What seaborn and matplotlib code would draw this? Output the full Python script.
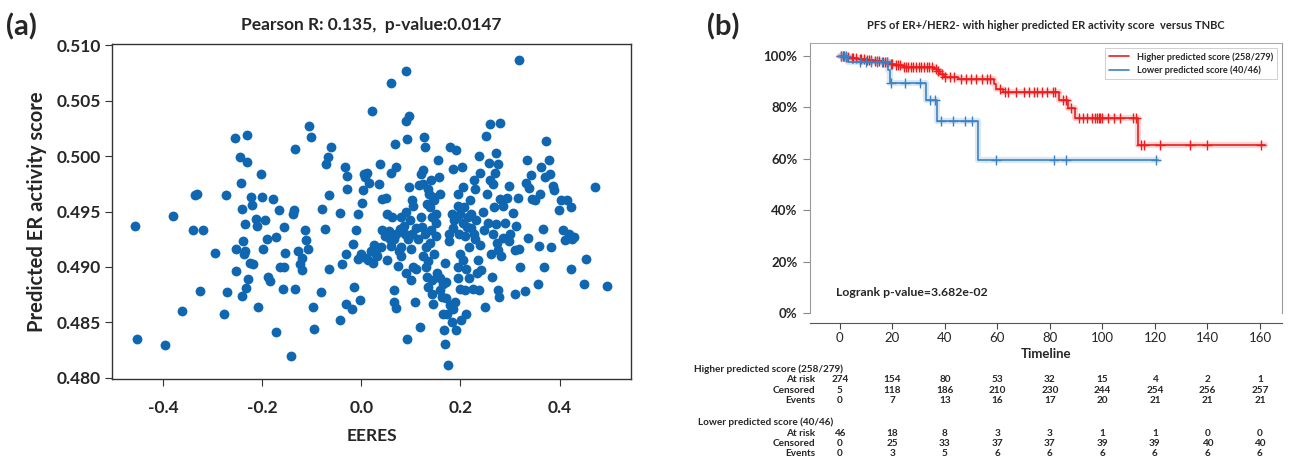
import numpy as np
import pandas as pd
import seaborn as sns
import matplotlib.pyplot as plt
from matplotlib.transforms import blended_transform_factory

# ---- panel (a): EERES vs predicted ER activity score ----
eeres = [
    -0.457, -0.452, -0.397, -0.380, -0.361, -0.340, -0.335, -0.332, -0.319, -0.325,
    -0.296, -0.277, -0.274, -0.271, -0.255, -0.252, -0.252, -0.245, -0.243, -0.240,
    -0.240, -0.237, -0.238, -0.235, -0.231, -0.230, -0.234, -0.233, -0.228, -0.225,
    -0.223, -0.221, -0.218, -0.213, -0.210, -0.209, -0.202, -0.201, -0.198, -0.194,
    -0.190, -0.188, -0.184, -0.179, -0.172, -0.172, -0.167, -0.165, -0.159, -0.157,
    -0.156, -0.154, -0.141, -0.136, -0.138, -0.134, -0.134, -0.128, -0.124, -0.120,
    -0.119, -0.113, -0.111, -0.107, -0.106, -0.102, -0.097, -0.096, -0.082, -0.080,
    -0.074, -0.071, -0.067, -0.066, -0.065, -0.061, -0.044, -0.043, -0.039, -0.032,
    -0.028, -0.028, -0.030, -0.030, -0.019, -0.017, -0.015, -0.011, -0.007, -0.007,
    -0.003, 0.001, 0.003, 0.005, 0.008, 0.012, 0.014, 0.016, 0.020, 0.024,
    0.022, 0.032, 0.035, 0.038, 0.041, 0.042, 0.047, 0.051, 0.052, 0.057,
    0.059, 0.060, 0.062, 0.065, 0.066, 0.070, 0.068, 0.070, 0.074, 0.076,
    0.078, 0.086, 0.090, 0.090, 0.093, 0.093, 0.096, 0.096, 0.099, 0.101,
    0.103, 0.103, 0.105, 0.109, 0.116, 0.118, 0.120, 0.120, 0.122, 0.124,
    0.126, 0.128, 0.130, 0.130, 0.132, 0.134, 0.136, 0.138, 0.140, 0.140,
    0.142, 0.145, 0.147, 0.151, 0.151, 0.155, 0.157, 0.159, 0.159, 0.163,
    0.167, 0.168, 0.169, 0.170, 0.174, 0.176, 0.178, 0.182, 0.184, 0.186,
    0.188, 0.190, 0.191, 0.194, 0.196, 0.198, 0.199, 0.201, 0.204, 0.205,
    0.207, 0.209, 0.211, 0.213, 0.217, 0.219, 0.222, 0.227, 0.228, 0.232,
    0.236, 0.238, 0.238, 0.242, 0.248, 0.250, 0.252, 0.253, 0.258, 0.259,
    0.261, 0.263, 0.265, 0.267, 0.271, 0.271, 0.273, 0.275, 0.275, 0.277,
    0.279, 0.279, 0.282, 0.286, 0.294, 0.298, 0.298, 0.306, 0.309, 0.313,
    0.317, 0.319, 0.319, 0.321, 0.330, 0.332, 0.334, 0.336, 0.338, 0.343,
    0.344, 0.350, 0.356, 0.358, 0.361, 0.363, 0.366, 0.369, 0.371, 0.373,
    0.379, 0.381, 0.383, 0.387, 0.389, 0.398, 0.402, 0.406, 0.410, 0.414,
    0.418, 0.422, 0.423, 0.425, 0.429, 0.449, 0.454, 0.471, 0.495,
    0.125, 0.135, 0.145, 0.132, 0.142, 0.128, 0.150, 0.138, 0.146, 0.125,
    0.135, 0.152, 0.143, 0.158, 0.165, 0.170, 0.178, 0.185, 0.183, 0.172,
    0.165, 0.176, 0.185, 0.190, 0.195, 0.200, 0.205, 0.210, 0.215, 0.222,
    0.230, 0.240, 0.205, 0.212, 0.218, 0.195, 0.200, 0.225, 0.233, 0.245,
    0.255, 0.265, 0.275, 0.285, 0.290, 0.300, 0.310, 0.260, 0.270, 0.240,
    0.230, 0.055, 0.065, 0.080, 0.088, 0.095, 0.110, 0.115, 0.105, 0.090,
    0.080, 0.030, 0.040, 0.010, 0.000, 0.025, 0.050, 0.060, 0.070, 0.110,
    0.100, 0.090, 0.080,
]
er_score = [
    0.4937, 0.4835, 0.4830, 0.4946, 0.4860, 0.4933, 0.4965, 0.4966, 0.4933, 0.4878,
    0.4913, 0.4858, 0.4965, 0.4877, 0.5016, 0.4896, 0.4916, 0.4999, 0.4976, 0.4874,
    0.4952, 0.4912, 0.4923, 0.4914, 0.5019, 0.4995, 0.4939, 0.4881, 0.4889, 0.4904,
    0.4963, 0.4956, 0.4903, 0.4943, 0.4937, 0.4864, 0.4984, 0.4963, 0.4916, 0.4942,
    0.4925, 0.4891, 0.4887, 0.4961, 0.4927, 0.4841, 0.4951, 0.4900, 0.4880, 0.4900,
    0.4936, 0.4913, 0.4820, 0.4951, 0.4948, 0.4880, 0.5006, 0.4914, 0.4903, 0.4897,
    0.4908, 0.4933, 0.4924, 0.4916, 0.5027, 0.5017, 0.4864, 0.4844, 0.4877, 0.4952,
    0.4934, 0.4993, 0.4999, 0.4965, 0.4898, 0.5008, 0.4852, 0.4949, 0.4903, 0.4990,
    0.4982, 0.4970, 0.4912, 0.4867, 0.4862, 0.4921, 0.4882, 0.4933, 0.4948, 0.4907,
    0.4870, 0.4958, 0.4969, 0.4984, 0.4981, 0.4985, 0.4906, 0.4976, 0.4914, 0.4904,
    0.5041, 0.4910, 0.4975, 0.4993, 0.4961, 0.4933, 0.4928, 0.4906, 0.4948, 0.4925,
    0.5066, 0.4919, 0.4945, 0.4879, 0.4868, 0.4863, 0.5011, 0.4930, 0.4901, 0.4914,
    0.4934, 0.4937, 0.5077, 0.5032, 0.5015, 0.4835, 0.5036, 0.4972, 0.4942, 0.4916,
    0.4960, 0.4930, 0.4900, 0.4868, 0.4974, 0.4846, 0.4984, 0.4945, 0.4936, 0.4987,
    0.5017, 0.5008, 0.4918, 0.4900, 0.4891, 0.4882, 0.4966, 0.4954, 0.4978, 0.4933,
    0.4876, 0.4867, 0.4960, 0.4948, 0.4940, 0.4996, 0.4981, 0.4966, 0.4879, 0.4873,
    0.4843, 0.4831, 0.4904, 0.4886, 0.4812, 0.4923, 0.5008, 0.4948, 0.4988, 0.4942,
    0.4868, 0.5005, 0.4843, 0.4900, 0.4966, 0.4930, 0.4912, 0.4852, 0.4990, 0.4972,
    0.4954, 0.4879, 0.4858, 0.4936, 0.4918, 0.4960, 0.4948, 0.4978, 0.4930, 0.4942,
    0.4906, 0.5000, 0.4879, 0.4897, 0.4933, 0.4864, 0.5018, 0.4966, 0.4994, 0.5029,
    0.4912, 0.4891, 0.4975, 0.4954, 0.5003, 0.4939, 0.4922, 0.4993, 0.4879, 0.4873,
    0.5030, 0.4961, 0.4910, 0.4926, 0.4962, 0.4973, 0.4923, 0.4949, 0.4876, 0.4937,
    0.4962, 0.5087, 0.4916, 0.4900, 0.4878, 0.4976, 0.4996, 0.4926, 0.4971, 0.4983,
    0.4961, 0.4960, 0.4885, 0.4919, 0.4966, 0.4990, 0.4934, 0.4900, 0.4981, 0.5014,
    0.4996, 0.4984, 0.4918, 0.4973, 0.4969, 0.4951, 0.4960, 0.4933, 0.4924, 0.4960,
    0.4930, 0.4954, 0.4898, 0.4925, 0.4927, 0.4885, 0.4907, 0.4972, 0.4883,
    0.4975, 0.4970, 0.4963, 0.4957, 0.4945, 0.4930, 0.4928, 0.4922, 0.4912, 0.4910,
    0.4905, 0.4895, 0.4888, 0.4890, 0.4885, 0.4872, 0.4866, 0.4862, 0.4850, 0.4858,
    0.4858, 0.4930, 0.4935, 0.4945, 0.4955, 0.4948, 0.4940, 0.4928, 0.4945, 0.4935,
    0.4925, 0.4920, 0.4906, 0.4898, 0.4890, 0.4890, 0.4880, 0.4880, 0.4895, 0.4950,
    0.4940, 0.4930, 0.4915, 0.4955, 0.4940, 0.4930, 0.4915, 0.4978, 0.4985, 0.4985,
    0.4970, 0.4932, 0.4925, 0.4918, 0.4930, 0.4925, 0.4935, 0.4925, 0.4955, 0.4950,
    0.4945, 0.4912, 0.4918, 0.4908, 0.4912, 0.4920, 0.4962, 0.4985, 0.4990, 0.4898,
    0.4888, 0.4895, 0.4910,
]

# ---- panel (b): Kaplan-Meier curves (event times and survival after each) ----
hi_label = "Higher predicted score (258/279)"
hi_event_t = [2, 4, 7, 10, 13, 16, 19, 21, 24, 36, 37, 38, 39.5, 45, 58.6, 59.5, 62,
              83.5, 87, 89.5, 113.5]
hi_surv = [0.996, 0.993, 0.989, 0.985, 0.980, 0.975, 0.968, 0.963, 0.955, 0.947, 0.940,
           0.928, 0.918, 0.911, 0.889, 0.873, 0.860, 0.829, 0.797, 0.759, 0.652]
hi_end = 162
hi_censor_t = [0.5, 1, 1.5, 2.5, 3, 4.5, 5, 6, 7.5, 8, 9, 10.5, 11, 12, 13.5, 14, 15, 16.5,
               17, 18, 19.5, 20, 21.5, 22, 23, 24.5, 25, 26, 27, 28, 29, 30, 31, 32, 33,
               34, 35, 36.5, 37.5, 39, 40, 42, 43.5, 46, 48, 50, 52, 54, 56, 57, 61, 63,
               64, 67, 70, 72, 74, 75, 77, 79, 81, 82, 85, 86.3, 88, 91, 92.5, 94, 96,
               97, 98, 98.5, 99, 100, 102, 104.5, 106.7, 111.7, 112.7, 114.5, 115.9,
               121.9, 133.3, 139.7, 160.5]

lo_label = "Lower predicted score (40/46)"
lo_event_t = [3, 18.5, 19.2, 32.8, 37, 52.6]
lo_surv = [0.978, 0.944, 0.895, 0.828, 0.746, 0.595]
lo_end = 121
lo_censor_t = [0.5, 1.5, 2.5, 7.5, 10, 12, 14, 16, 18, 19.5, 24.8, 30.5, 34.3, 36.2,
               38.5, 43, 47.6, 50.2, 59.4, 81.4, 86, 120.5]

# number-at-risk table
table_times = [0, 20, 40, 60, 80, 100, 120, 140, 160]
hi_at_risk = [274, 154, 80, 53, 32, 15, 4, 2, 1]
hi_censored = [5, 118, 186, 210, 230, 244, 254, 256, 257]
hi_events = [0, 7, 13, 16, 17, 20, 21, 21, 21]
lo_at_risk = [46, 18, 8, 3, 3, 1, 1, 0, 0]
lo_censored = [0, 25, 33, 37, 37, 39, 39, 40, 40]
lo_events = [0, 3, 5, 6, 6, 6, 6, 6, 6]

sns.set_style("ticks")
plt.rcParams['font.family'] = ['Lato', 'DejaVu Sans']
plt.rcParams['axes.unicode_minus'] = False

W, H = 1289, 463
fig = plt.figure(figsize=(W / 100, H / 100), dpi=100)


def frac_box(l, t, r, b):
    return [l / W, 1 - b / H, (r - l) / W, (b - t) / H]


# ---------------- panel (a) ----------------
ax1 = fig.add_axes(frac_box(112, 44, 631, 379))
scatter_df = pd.DataFrame({"EERES": eeres, "score": er_score})
sns.scatterplot(data=scatter_df, x="EERES", y="score", ax=ax1, color="#0f67b1",
                s=50, linewidth=0, alpha=1)
ax1.set_xlim(-0.503, 0.544)
ax1.set_ylim(0.4799, 0.5101)
ax1.set_xticks([-0.4, -0.2, 0.0, 0.2, 0.4])
ax1.set_xticklabels(["-0.4", "-0.2", "0.0", "0.2", "0.4"])
yt = [0.480, 0.485, 0.490, 0.495, 0.500, 0.505, 0.510]
ax1.set_yticks(yt)
ax1.set_yticklabels([f"{v:.3f}" for v in yt])
for lab in ax1.get_xticklabels() + ax1.get_yticklabels():
    lab.set_fontweight("bold")
ax1.tick_params(axis="x", labelsize=12.5, length=5, pad=10, color="#333333")
ax1.tick_params(axis="y", labelsize=12.5, length=5, pad=3, color="#333333")
for sp in ax1.spines.values():
    sp.set_color("#333333")
    sp.set_linewidth(1.0)
ax1.set_xlabel("EERES", fontsize=12.5, fontweight="bold", labelpad=9)
ax1.set_ylabel("Predicted ER activity score", fontsize=14.5, fontweight="bold", labelpad=7)
ax1.set_title("Pearson R: 0.135,  p-value:0.0147", fontsize=12.5, fontweight="bold", pad=10)
fig.text(6 / W, 1 - 27 / H, "(a)", fontsize=21, fontweight="bold", va="center")

# ---------------- panel (b) ----------------
ax2 = fig.add_axes(frac_box(810, 43, 1282, 313))


def step_curve(event_t, surv, end):
    t = np.concatenate([[0], event_t, [end]])
    s = np.concatenate([[1.0], surv, [surv[-1]]])
    return t, s


def surv_at(times, event_t, surv):
    levels = np.concatenate([[1.0], surv])
    idx = np.searchsorted(event_t, times, side="right")
    return levels[idx]


groups = [
    (hi_label, hi_event_t, hi_surv, hi_end, hi_censor_t, "#ee1c1c"),
    (lo_label, lo_event_t, lo_surv, lo_end, lo_censor_t, "#3b82c4"),
]
for label, ev_t, sv, end, cen_t, col in groups:
    t, s = step_curve(ev_t, sv, end)
    ax2.step(t, s, where="post", color=col, lw=4.5, alpha=0.18)
    sns.lineplot(x=t, y=s, ax=ax2, drawstyle="steps-post", color=col, lw=1.2,
                 label=label, estimator=None, sort=False)
    ct = np.array(cen_t)
    ax2.plot(ct, surv_at(ct, ev_t, sv), ls="", marker="+", ms=6.5, mew=1.0, color=col)

ax2.set_xlim(-11.4, 168.4)
ax2.set_ylim(0, 1.05)
ax2.set_xticks(table_times)
ax2.set_yticks([0, 0.2, 0.4, 0.6, 0.8, 1.0])
ax2.set_yticklabels(["0%", "20%", "40%", "60%", "80%", "100%"])
for lab in ax2.get_xticklabels() + ax2.get_yticklabels():
    lab.set_fontweight("bold")
ax2.tick_params(axis="x", labelsize=9.5, length=4, pad=3, color="#444444")
ax2.tick_params(axis="y", labelsize=9.5, length=5, pad=4, color="#888888")
ax2.spines["bottom"].set_position(("outward", 7))
ax2.spines["bottom"].set_color("#555555")
ax2.spines["left"].set_color("#999999")
ax2.spines["top"].set_color("#aaaaaa")
ax2.spines["right"].set_color("#999999")
ax2.set_xlabel("Timeline", fontsize=9.5, fontweight="bold", labelpad=2.5)
ax2.set_ylabel("")
ax2.set_title("PFS of ER+/HER2- with higher predicted ER activity score  versus TNBC",
              fontsize=8, fontweight="bold", pad=10)
leg = ax2.legend(loc="upper right", fontsize=6.6, frameon=True, fancybox=False,
                 handlelength=2.2, borderpad=0.5, labelspacing=0.4)
leg.get_frame().set_edgecolor("#bbbbbb")
leg.get_frame().set_linewidth(0.6)
for txt in leg.get_texts():
    txt.set_fontweight("bold")
ax2.text(-1.5, 0.078, "Logrank p-value=3.682e-02", fontsize=8.8, fontweight="bold",
         va="center", ha="left")
fig.text(707 / W, 1 - 27 / H, "(b)", fontsize=21, fontweight="bold", va="center")

# number at risk table below panel (b)
tr = blended_transform_factory(ax2.transData, fig.transFigure)
tab_kw = dict(fontsize=7.2, fontweight="bold", transform=tr, va="center")
table_blocks = [
    (hi_label, 1.1, 369, [hi_at_risk, hi_censored, hi_events]),
    (lo_label, -2.7, 422, [lo_at_risk, lo_censored, lo_events]),
]
row_names = ["At risk", "Censored", "Events"]
for label, head_x, y0, rows in table_blocks:
    fig.text(head_x, 1 - y0 / H, label, ha="right", **tab_kw)
    for k, (name, vals) in enumerate(zip(row_names, rows)):
        yy = 1 - (y0 + 11 + k * 10.3) / H
        fig.text(-9.5, yy, name, ha="right", **tab_kw)
        for tt, v in zip(table_times, vals):
            fig.text(tt, yy, str(v), ha="center", **tab_kw)

fig.savefig("out.png", dpi=100)
